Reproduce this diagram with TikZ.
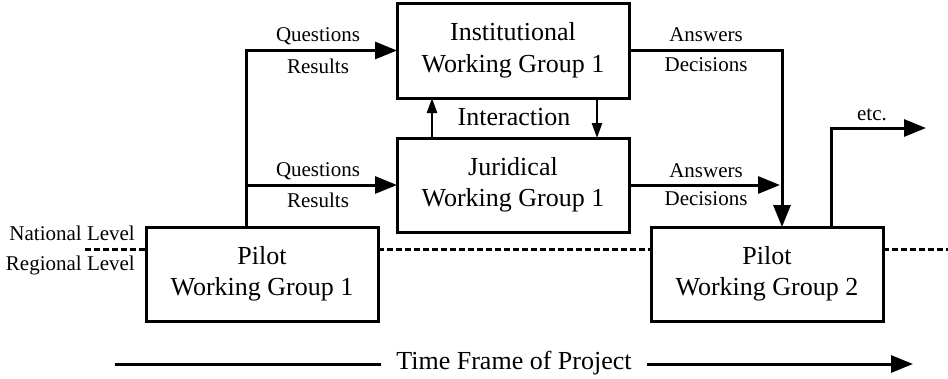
\documentclass[tikz,border=0pt]{standalone}
\usepackage{fontspec}
\setmainfont{Liberation Serif}
\usetikzlibrary{arrows.meta}
\begin{document}
\begin{tikzpicture}[x=1pt,y=-1pt,
  wbox/.style={draw,line width=3pt,minimum width=232pt,minimum height=95pt,inner sep=0pt,outer sep=0pt,align=center,font=\fontsize{26}{31.5}\selectfont},
  lbl/.style={font=\fontsize{21}{25}\selectfont,inner sep=0pt},
  conn/.style={line width=3pt},
  arr/.style={conn,-{Triangle[length=22pt,width=17pt]}},
  sarr/.style={line width=2.5pt,-{Triangle[length=15pt,width=10pt]}},
  lvl/.style={line width=3pt,dash pattern=on 6pt off 3pt}]
\useasboundingbox (0,0) rectangle (948,378);
% boxes
\node[wbox] (inst) at (513,50.5) {Institutional\\Working Group 1};
\node[wbox,minimum height=94pt] (jur) at (513,185) {Juridical\\Working Group 1};
\node[wbox,minimum height=94pt] (p1) at (262,274) {Pilot\\Working Group 1};
\node[wbox,minimum height=94pt] (p2) at (767,274) {Pilot\\Working Group 2};
% level line
\coordinate (dl) at (85,249);
\coordinate (dr) at (948,249);
\draw[lvl] (dl) -- ([yshift=25pt]p1.west);
\draw[lvl] ([yshift=25pt]p1.east) -- ([yshift=25pt]p2.west);
\draw[lvl] ([yshift=25pt]p2.east) -- (dr);
\node[lbl,anchor=east] (nat) at (135,233) {National Level};
\node[lbl,anchor=east] (reg) at (135,265) {Regional Level};
% questions / results
\draw[arr] ([xshift=-16pt]p1.north) |- (inst.west);
\draw[arr] ([xshift=-16pt]p1.north |- jur.west) -- (jur.west);
\node[lbl] (q1) at (318,36) {Questions};
\node[lbl] (r1) at (318,66) {Results};
\node[lbl] (q2) at (318,171) {Questions};
\node[lbl] (r2) at (318,200) {Results};
% interaction
\draw[sarr] ([xshift=-81pt]jur.north) -- ([xshift=-81pt]inst.south);
\draw[sarr] ([xshift=84pt]inst.south) -- ([xshift=84pt]jur.north);
\node[lbl,font=\fontsize{26}{30}\selectfont] (inter) at (514,117) {Interaction};
% answers / decisions
\draw[arr] (inst.east) -| ([xshift=15pt]p2.north);
\coordinate (jend) at (780,185);
\draw[arr] (jur.east) -- (jend);
\node[lbl] (a1) at (706,35) {Answers};
\node[lbl] (d1) at (706,65) {Decisions};
\node[lbl] (a2) at (706,171) {Answers};
\node[lbl] (d2) at (706,199) {Decisions};
% etc
\coordinate (etcend) at (926,128);
\draw[arr] ([xshift=64pt]p2.north) |- (etcend);
\node[lbl] (etc) at (872,115) {etc.};
% time frame
\node[font=\fontsize{26}{30}\selectfont,inner xsep=15pt,inner ysep=0pt] (tf) at (514,363) {Time Frame of Project};
\coordinate (tl) at (115,364);
\coordinate (tr) at (913,364);
\draw[conn] (tl) -- (tl -| tf.west);
\draw[arr] (tr -| tf.east) -- (tr);
\end{tikzpicture}
\end{document}
